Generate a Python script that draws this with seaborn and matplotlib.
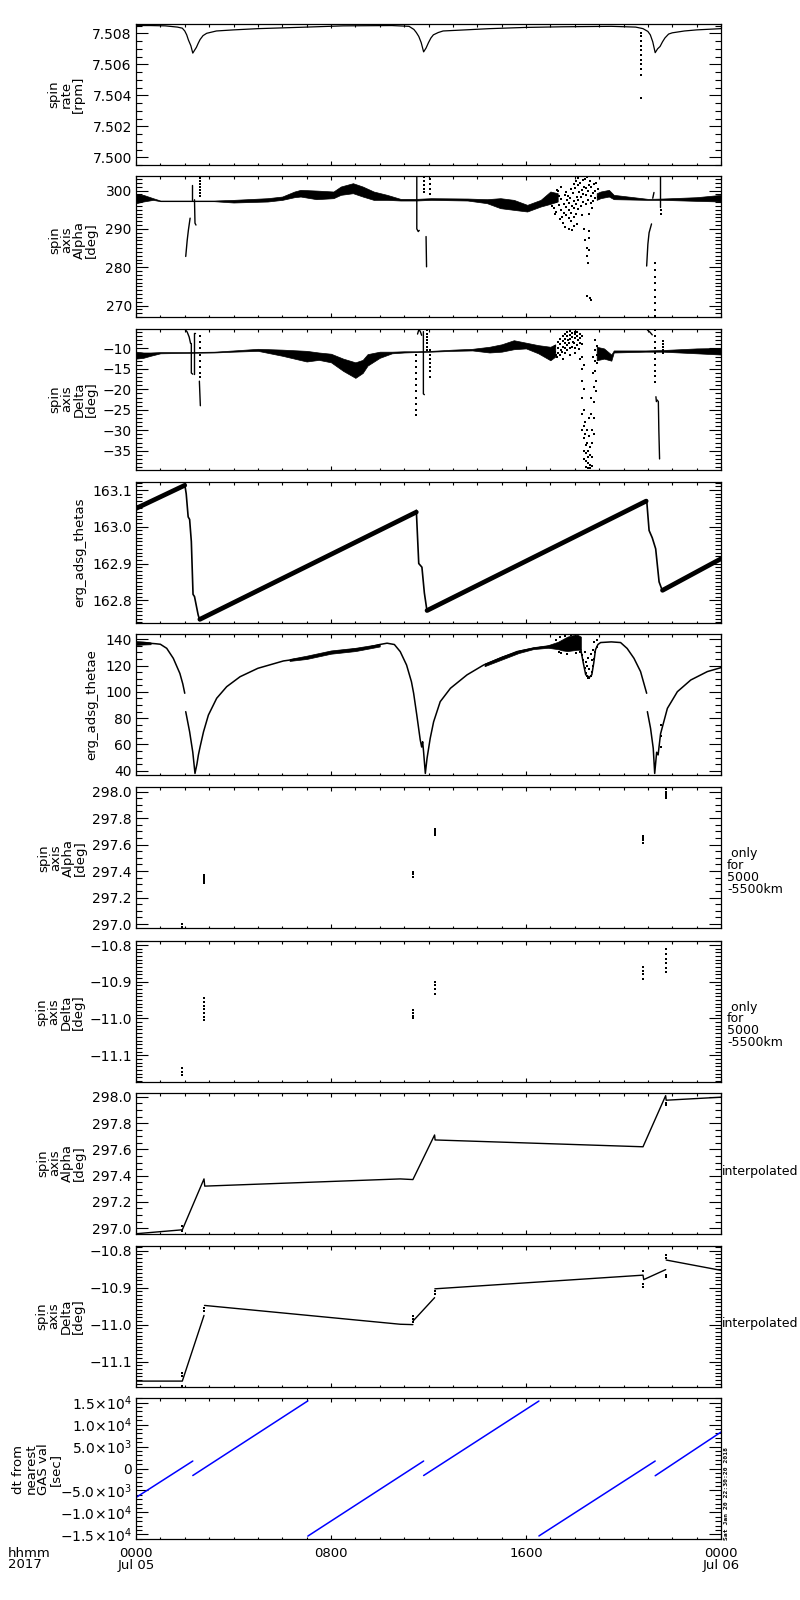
import numpy as np
import pandas as pd
import seaborn as sns
import matplotlib.pyplot as plt
from matplotlib.ticker import MultipleLocator, FuncFormatter

nan = np.nan

# time is in hours after 0000 UT, 2017 Jul 05

# panel 1: spin rate [rpm]
P1_T = [0.0, 0.6, 1.2, 1.7, 1.9, 2.0, 2.08, 2.15, 2.25, 2.33, 2.4, 2.48, 2.55, 2.63, 2.75, 2.9, 3.3, 4.0,
        5.0, 6.0, 7.0, 8.5, 10.5, 11.2, 11.4, 11.5, 11.6, 11.7, 11.8, 11.9, 12.0, 12.1, 12.2, 12.4, 12.6,
        13.5, 14.5, 16.0, 17.5, 19.5, 20.5, 20.8, 21.0, 21.1, 21.2, 21.3, 21.4, 21.5, 21.6, 21.7, 21.85,
        22.0, 22.5, 23.0, 24.0]
P1_V = [7.50850, 7.50850, 7.50848, 7.50840, 7.50833, 7.50815, 7.50790, 7.50757, 7.50720, 7.50672,
        7.50690, 7.50710, 7.50735, 7.50760, 7.50785, 7.50800, 7.50815, 7.50822, 7.50830, 7.50835,
        7.50840, 7.50848, 7.50850, 7.50845, 7.50825, 7.50805, 7.50780, 7.50740, 7.50680, 7.50705,
        7.50740, 7.50770, 7.50790, 7.50805, 7.50815, 7.50822, 7.50830, 7.50838, 7.50842, 7.50845,
        7.50840, 7.50830, 7.50812, 7.50790, 7.50745, 7.50675, 7.50700, 7.50715, 7.50745, 7.50770,
        7.50795, 7.50803, 7.50815, 7.50822, 7.50830]
P1_DOTS = [(20.72, 7.5080), (20.72, 7.5078), (20.72, 7.5075), (20.72, 7.5072), (20.72, 7.5069),
           (20.72, 7.5066), (20.72, 7.5063), (20.72, 7.5060), (20.72, 7.5057), (20.72, 7.5053),
           (20.72, 7.5038)]

# panel 2: spin axis Alpha [deg]
P2_BAND_T = [0.0, 0.3, 0.7, 1.0, 3.2, 4.0, 5.4, 6.0, 6.5, 6.75, 7.4, 8.1, 8.4, 8.9, 9.3, 9.75, 10.3, 10.85,
             11.5, 12.1, 13.6, 14.4, 14.95, 15.5, 16.05, 16.6, 17.0, 17.3, nan, 18.9, 19.06, 19.4, 19.6,
             21.0, 21.6, 23.0, 24.0]
P2_BAND_LO = [296.7, 297.14, 297.57, 297.22, 297.22, 296.88, 297.14, 297.57, 298.27, 298.44, 297.75,
              298.01, 298.88, 299.31, 298.44, 297.57, 297.57, 297.4, 297.4, 297.57, 297.4, 296.7, 295.4,
              294.96, 294.53, 295.83, 296.53, 297.14, nan, 297.57, 298.01, 298.44, 297.75, 297.57,
              297.57, 297.31, 297.14]
P2_BAND_HI = [299.05, 298.88, 298.01, 297.4, 297.4, 297.57, 298.01, 298.44, 299.75, 300.18, 300.0,
              299.75, 301.05, 301.92, 301.05, 299.75, 298.88, 297.83, 297.83, 298.01, 297.92, 297.75,
              298.01, 297.57, 296.27, 297.57, 299.75, 299.31, nan, 299.31, 299.75, 300.18, 298.88,
              297.83, 297.92, 298.27, 298.88]
P2_SPIKE_T = [2.04, 2.10, 2.15, 2.22, nan, 2.29, 2.29, nan, 2.40, 2.42, 2.46, nan, 11.52, 11.52, 11.58,
              11.62, nan, 11.9, 11.92, nan, 20.95, 21.0, 21.05, 21.15, nan, 21.2, 21.25, nan, 21.5, 21.5]
P2_SPIKE_V = [282.8, 287.0, 289.7, 292.8, nan, 301.5, 297.6, nan, 297.6, 291.5, 291.0, nan, 303.5, 290.0,
              289.3, 289.6, nan, 288.0, 280.1, nan, 280.3, 286.0, 289.0, 291.3, nan, 298.0, 299.5, nan,
              303.8, 295.6]
P2_DOTS = [(2.62, 303.3), (2.62, 302.6), (2.62, 301.8), (2.62, 301.0), (2.62, 300.2), (2.62, 299.4),
           (2.62, 298.6), (11.8, 303.5), (11.8, 302.5), (11.8, 301.5), (11.8, 300.5), (11.8, 299.5),
           (12.05, 303.0), (12.05, 301.8), (12.05, 300.5), (12.05, 299.2), (21.3, 281.0), (21.3, 279.2),
           (21.3, 277.5), (21.3, 275.8), (21.3, 274.0), (21.3, 272.3), (21.3, 270.6), (21.3, 268.9),
           (21.3, 267.3), (21.52, 294.8), (21.53, 294.0)]
P2_CLOUD = [
    (17.05, 297.5), (17.05, 296.0), (17.08, 298.8), (17.15, 295.5), (17.15, 299.0), (17.18, 293.8),
    (17.25, 297.0), (17.25, 294.5), (17.28, 300.2), (17.35, 296.2), (17.35, 298.5), (17.38, 292.5),
    (17.32, 299.8), (17.45, 295.0), (17.45, 297.8), (17.48, 293.0), (17.42, 300.8), (17.55, 294.2),
    (17.55, 296.5), (17.58, 298.9), (17.52, 291.5), (17.65, 293.5), (17.65, 295.8), (17.68, 297.6),
    (17.62, 290.5), (17.65, 299.5), (17.75, 292.8), (17.75, 295.0), (17.78, 296.8), (17.72, 298.6),
    (17.75, 290.0), (17.85, 292.0), (17.85, 294.2), (17.88, 296.0), (17.82, 298.0), (17.85, 300.5),
    (17.88, 289.6), (17.95, 293.0), (17.95, 295.5), (17.98, 297.2), (17.92, 299.4), (17.95, 301.8),
    (17.98, 290.8), (18.05, 294.0), (18.05, 296.4), (18.08, 298.2), (18.02, 300.6), (18.05, 302.6),
    (18.08, 291.2), (18.15, 295.2), (18.15, 297.5), (18.18, 299.6), (18.12, 301.4), (18.15, 303.3),
    (18.25, 296.0), (18.25, 298.4), (18.28, 300.2), (18.22, 302.0), (18.25, 303.8), (18.28, 293.5),
    (18.35, 297.0), (18.35, 299.2), (18.38, 301.0), (18.32, 302.8), (18.35, 304.0), (18.38, 290.0),
    (18.42, 287.0), (18.45, 296.5), (18.45, 298.8), (18.48, 300.6), (18.42, 303.0), (18.5, 285.0),
    (18.52, 283.0), (18.55, 281.0), (18.55, 297.5), (18.55, 299.8), (18.58, 301.5), (18.52, 303.5),
    (18.58, 294.0), (18.6, 289.5), (18.65, 296.8), (18.65, 298.6), (18.68, 300.8), (18.62, 302.4),
    (18.58, 287.5), (18.6, 284.5), (18.75, 297.2), (18.75, 299.4), (18.78, 301.8), (18.72, 295.5),
    (18.85, 298.0), (18.85, 300.0), (18.88, 302.0), (18.95, 298.4), (18.95, 300.4),
    (18.52, 272.6), (18.62, 272.0), (18.68, 271.5)]

# panel 3: spin axis Delta [deg]
P3_BAND_T = [0.0, 0.3, 0.6, 1.0, 2.0, 3.2, 4.0, 5.0, 6.0, 7.0, 7.5, 8.0, 8.5, 9.0, 9.3, 9.5, 10.0, 10.5,
             11.0, 11.5, 12.1, 13.0, 13.8, 14.5, 15.0, 15.5, 16.0, 16.5, 17.0, 17.2, nan, 18.9, 19.2,
             19.5, 19.6, 20.9, 21.6, 23.0, 24.0]
P3_BAND_LO = [-12.5, -12.3, -11.8, -11.2, -11.1, -11.0, -10.8, -10.6, -11.8, -13.2, -12.8, -13.4, -15.5,
              -17.2, -16.0, -14.2, -12.3, -11.2, -11.0, -10.9, -10.8, -10.6, -10.5, -11.0, -10.8, -10.2,
              -10.0, -11.2, -12.9, -12.0, nan, -12.9, -12.5, -13.0, -11.0, -10.8, -10.8, -11.2, -11.5]
P3_BAND_HI = [-10.8, -11.0, -11.0, -10.9, -10.9, -10.8, -10.5, -10.1, -10.3, -10.6, -11.0, -11.3, -12.5,
              -13.4, -12.8, -11.4, -10.8, -10.8, -10.7, -10.7, -10.6, -10.3, -10.1, -9.6, -9.0, -8.0,
              -8.6, -9.2, -9.6, -9.0, nan, -9.6, -10.0, -11.5, -10.5, -10.5, -10.4, -10.0, -9.9]
P3_SPIKE_T = [2.02, 2.10, 2.18, 2.24, nan, 2.27, 2.27, 2.33, nan, 2.42, 2.37, 2.37, nan, 2.60, 2.62, 2.64,
              nan, 11.55, 11.6, 11.66, 11.72, nan, 11.79, 11.79, 11.83, nan, 20.98, 21.08, 21.18, nan,
              21.33, 21.35, nan, 21.38, 21.43, 21.45, 21.48]
P3_SPIKE_V = [-5.4, -6.0, -7.2, -8.8, nan, -8.8, -16.0, -16.3, nan, -6.3, -6.3, -16.2, nan, -18.0, -21.0,
              -24.0, nan, -6.5, -5.5, -5.8, -6.8, nan, -5.9, -21.1, -21.3, nan, -5.5, -6.0, -6.7, nan,
              -21.8, -23.0, nan, -22.6, -23.0, -30.0, -37.0]
P3_DOTS = [(2.62, -7.0), (2.62, -8.5), (2.62, -10.0), (2.62, -11.5), (2.62, -13.0), (2.62, -14.5),
           (2.62, -16.0), (2.62, -17.0), (11.5, -11.5), (11.5, -13.0), (11.5, -14.5), (11.5, -16.0),
           (11.5, -17.5), (11.5, -19.0), (11.5, -20.5), (11.5, -22.0), (11.5, -23.5), (11.5, -25.0),
           (11.5, -26.3), (11.95, -5.6), (11.95, -6.4), (11.95, -7.2), (11.95, -8.0), (11.95, -8.8),
           (11.95, -9.6), (11.95, -10.4), (12.05, -10.5), (12.05, -11.5), (12.05, -12.5), (12.05, -13.5),
           (12.05, -14.5), (12.05, -15.5), (12.05, -17.0), (21.3, -5.6), (21.3, -7.0), (21.3, -8.4),
           (21.3, -9.8), (21.3, -11.2), (21.3, -12.6), (21.3, -14.0), (21.3, -15.4), (21.3, -16.8),
           (21.3, -18.2), (21.6, -8.2), (21.6, -8.9), (21.6, -9.6), (21.6, -10.3), (21.6, -11.0)]
P3_CLOUD = [
    (17.2, -9.5), (17.2, -10.8), (17.22, -11.6), (17.3, -8.5), (17.3, -9.8), (17.32, -11.0),
    (17.28, -12.2), (17.4, -7.8), (17.4, -9.0), (17.42, -10.4), (17.38, -11.5), (17.5, -7.0),
    (17.5, -8.2), (17.52, -9.6), (17.48, -10.8), (17.5, -12.5), (17.6, -6.6), (17.6, -7.6),
    (17.62, -8.8), (17.58, -10.0), (17.6, -11.2), (17.7, -6.0), (17.7, -7.0), (17.72, -8.0),
    (17.68, -9.2), (17.7, -10.5), (17.8, -5.8), (17.8, -6.8), (17.82, -7.8), (17.78, -8.8),
    (17.8, -10.0), (17.82, -11.6), (17.9, -6.2), (17.9, -7.2), (17.92, -8.4), (17.88, -9.6),
    (18.0, -5.9), (18.0, -6.6), (18.02, -7.5), (17.98, -8.6), (18.0, -9.8), (18.02, -11.0),
    (18.1, -6.1), (18.1, -7.0), (18.12, -8.0), (18.08, -9.2), (18.2, -6.4), (18.2, -7.4),
    (18.22, -8.6), (18.18, -10.2), (18.2, -12.5), (18.28, -7.0), (18.28, -9.0), (18.28, -12.0),
    (18.29, -15.0), (18.29, -18.0), (18.3, -22.0), (18.3, -26.0), (18.31, -30.0), (18.36, -14.0),
    (18.36, -20.0), (18.37, -25.0), (18.37, -29.0), (18.38, -32.0), (18.38, -35.0), (18.39, -37.0),
    (18.44, -28.0), (18.44, -31.0), (18.45, -33.5), (18.45, -35.5), (18.46, -37.5), (18.46, -39.0),
    (18.52, -30.0), (18.52, -33.0), (18.53, -35.0), (18.53, -36.5), (18.54, -38.0), (18.54, -39.3),
    (18.6, -27.0), (18.6, -31.5), (18.61, -34.0), (18.61, -36.0), (18.62, -38.5), (18.62, -39.3),
    (18.68, -22.0), (18.68, -26.0), (18.69, -30.0), (18.69, -33.0), (18.7, -36.5), (18.7, -38.8),
    (18.76, -12.0), (18.76, -16.0), (18.77, -19.5), (18.77, -23.0), (18.78, -27.0), (18.78, -31.0),
    (18.84, -8.0), (18.84, -10.5), (18.85, -13.0), (18.85, -15.5), (18.86, -18.0), (18.86, -20.5),
    (18.92, -9.5), (18.92, -11.5), (18.93, -13.5)]

# panel 4: erg_adsg_thetas
P4_RISE_T = [0.0, 2.0, nan, 2.62, 11.5, nan, 11.94, 20.93, nan, 21.6, 24.0]
P4_RISE_V = [163.05, 163.113, nan, 162.748, 163.04, nan, 162.772, 163.07, nan, 162.827, 162.913]
P4_DROP_T = [2.0, 2.06, 2.14, 2.2, 2.27, 2.34, 2.4, 2.55, 2.62, nan, 11.5, 11.6, 11.73, 11.83, 11.94, nan,
             20.95, 21.05, 21.18, 21.32, 21.46, 21.6]
P4_DROP_V = [163.115, 163.09, 163.027, 163.02, 162.96, 162.816, 162.81, 162.76, 162.745, nan, 163.045,
             162.90, 162.89, 162.82, 162.77, nan, 163.073, 162.99, 162.97, 162.94, 162.85, 162.825]

# panel 5: erg_adsg_thetae
P5_T = [0.0, 0.4, 0.8, 1.0, 1.26, 1.53, 1.8, 1.92, 2.0, nan,
        2.04, 2.2, 2.33, 2.42, 2.5, 2.56, 2.63, 2.77, 2.97, 3.31, 3.72, 4.27, 5.0, 6.05, 7.0, 8.0, 8.79,
        9.47, 10.0, 10.3, 10.6, 10.84, 11.1, 11.3, 11.39, 11.52, 11.66, 11.72, 11.76, 11.8, 11.87, 11.94,
        12.07, 12.21, 12.48, 12.9, 13.58, 14.26, 14.95, 15.63, 16.32, 16.87, 17.3, nan,
        18.25, 18.35, 18.45, 18.6, 18.7, 18.78, 18.85, 18.95, 19.06, 19.5, 19.88, 20.15, 20.43, 20.7,
        20.95, nan,
        20.98, 21.11, 21.22, 21.28, 21.36, 21.42, 21.52, 21.8, 22.21, 22.76, 23.44, 24.0]
P5_V = [137.0, 137.2, 136.6, 136.2, 133.1, 125.5, 114.0, 106.0, 98.9, nan,
        84.9, 69.6, 54.0, 37.9, 45.0, 52.0, 58.2, 69.6, 82.3, 95.1, 103.9, 111.5, 117.9, 123.5, 126.0,
        130.1, 131.9, 133.5, 136.0, 137.0, 136.0, 130.6, 120.4, 107.7, 98.9, 82.3, 63.5, 58.0, 62.0,
        54.0, 37.9, 49.4, 64.6, 77.2, 92.5, 102.7, 112.9, 120.4, 125.6, 130.6, 133.1, 134.4, 136.0, nan,
        132.0, 122.0, 113.0, 111.0, 113.0, 122.0, 132.0, 136.0, 137.5, 138.0, 137.5, 133.0, 125.5,
        115.4, 98.9, nan,
        84.9, 72.2, 57.0, 37.9, 54.0, 52.0, 68.0, 87.4, 100.1, 109.0, 115.4, 118.4]
P5_BAND_T = [0.0, 0.3, 0.6, nan, 6.3, 7.0, 8.0, 9.0, 10.0, nan, 14.3, 15.0, 15.7, 16.3, 16.9, 17.3, 17.5,
             17.7, 17.9, 18.1, 18.25]
P5_BAND_LO = [135.6, 136.0, 136.2, nan, 123.5, 125.0, 129.0, 131.0, 134.5, nan, 119.5, 124.5, 129.5,
              132.5, 133.5, 132.5, 131.5, 131.0, 131.5, 132.0, 132.0]
P5_BAND_HI = [138.6, 138.3, 137.6, nan, 125.0, 127.5, 131.5, 133.5, 136.5, nan, 121.5, 127.0, 131.5,
              134.0, 135.5, 138.0, 140.0, 142.0, 143.0, 143.5, 142.0]
P5_DOTS = [(17.25, 139.5), (17.4, 141.5), (17.6, 142.8), (17.85, 143.6), (18.0, 143.8), (17.45, 129.5),
           (17.7, 129.0), (18.05, 129.5), (17.35, 130.5), (18.2, 130.0), (18.3, 128.0), (18.35, 124.0),
           (18.4, 118.0), (18.45, 114.5), (18.5, 112.0), (18.55, 110.5), (18.6, 110.8), (18.65, 112.0),
           (18.7, 115.0), (18.75, 120.0), (18.8, 125.0), (18.85, 130.0), (18.9, 134.0), (18.5, 120.0),
           (18.6, 117.5), (18.7, 124.0), (18.4, 130.0), (18.55, 126.0), (18.8, 138.0), (18.9, 139.5),
           (18.75, 132.0), (18.65, 128.5), (18.45, 122.5), (21.52, 74.7), (21.52, 66.0), (21.52, 58.0)]

# panels 6/7: attitude only for 5000-5500 km
P6_DOTS = [(1.9, 297.0), (1.9, 296.98), (2.79, 297.37), (2.79, 297.355), (2.79, 297.34), (2.79, 297.325),
           (2.8, 297.31), (11.36, 297.395), (11.36, 297.375), (11.36, 297.355), (12.25, 297.72),
           (12.25, 297.705), (12.25, 297.69), (12.26, 297.675), (20.81, 297.665), (20.81, 297.65),
           (20.81, 297.635), (20.82, 297.615), (21.73, 298.02), (21.73, 298.0), (21.74, 297.985),
           (21.74, 297.965), (21.75, 297.95)]
P7_DOTS = [(1.9, -11.135), (1.9, -11.145), (1.9, -11.155), (2.79, -10.945), (2.79, -10.955),
           (2.79, -10.965), (2.79, -10.975), (2.79, -10.985), (2.8, -10.995), (2.8, -11.005),
           (11.36, -10.978), (11.36, -10.986), (11.36, -10.994), (11.36, -11.0), (12.25, -10.9),
           (12.25, -10.91), (12.25, -10.92), (12.26, -10.933), (20.81, -10.86), (20.81, -10.87),
           (20.81, -10.88), (20.82, -10.893), (21.73, -10.812), (21.73, -10.825), (21.73, -10.838),
           (21.74, -10.85), (21.74, -10.862), (21.74, -10.874)]

# panels 8/9: interpolated attitude
P8_T = [0.0, 1.9, 2.79, 2.82, 10.84, 11.36, 12.25, 12.27, 20.8, 21.73, 21.75, 24.0]
P8_V = [296.957, 296.987, 297.375, 297.32, 297.375, 297.37, 297.71, 297.672, 297.62, 298.01, 297.975, 297.998]
P8_DOTS = [(1.9, 297.015), (1.9, 296.975), (21.75, 297.955), (21.75, 297.935)]
P9_T = [0.0, 1.9, 2.79, nan, 2.81, 10.84, 11.36, nan, 11.37, 12.25, nan, 12.26, 20.8, 20.83, 21.73, nan,
        21.75, 24.0]
P9_V = [-11.153, -11.153, -10.975, nan, -10.948, -10.999, -11.0, nan, -10.99, -10.927, nan, -10.903,
        -10.866, -10.878, -10.851, nan, -10.825, -10.853]
P9_DOTS = [(1.9, -11.13), (1.9, -11.14), (1.9, -11.165), (2.8, -10.955), (2.8, -10.962), (11.36, -10.978),
           (11.36, -10.986), (11.36, -10.993), (12.25, -10.91), (12.25, -10.918), (20.8, -10.855),
           (20.8, -10.89), (20.8, -10.897), (21.73, -10.812), (21.73, -10.82), (21.73, -10.865),
           (21.73, -10.872)]

# panel 10: dt from nearest GAS value [sec]
P10_T = [0.0, 2.33, nan, 2.33, 7.05, nan, 7.05, 11.8, nan, 11.8, 16.53, nan, 16.53, 21.3, nan, 21.3, 24.0]
P10_V = [-6600, 1700, nan, -1600, 15400, nan, -15400, 1700, nan, -1600, 15370, nan, -15370, 1700, nan,
         -1650, 8300]
P10_TICKS = [-15000, -10000, -5000, 0, 5000, 10000, 15000]
P10_LABELS = [r'$-1.5\!\times\!10^{4}$', r'$-1.0\!\times\!10^{4}$', r'$-5.0\!\times\!10^{3}$', '0',
              r'$5.0\!\times\!10^{3}$', r'$1.0\!\times\!10^{4}$', r'$1.5\!\times\!10^{4}$']

YLABELS = ['spin\nrate\n[rpm]', 'spin\naxis\nAlpha\n[deg]', 'spin\naxis\nDelta\n[deg]',
           'erg_adsg_thetas', 'erg_adsg_thetae', 'spin\naxis\nAlpha\n[deg]', 'spin\naxis\nDelta\n[deg]',
           'spin\naxis\nAlpha\n[deg]', 'spin\naxis\nDelta\n[deg]', 'dt from\nnearest\nGAS val\n[sec]']
X_TICKS = [0, 8, 16, 24]
X_LABELS = ['0000\nJul 05', '0800', '1600', '0000\nJul 06']


def split(t, *cols):
    t = np.asarray(t, float)
    seg = np.cumsum(np.isnan(t))
    df = pd.DataFrame({'t': t, 'seg': seg})
    for i, c in enumerate(cols):
        df[f'v{i}'] = np.asarray(c, float)
    return df.dropna()


def lines(ax, t, v, lw=1.0, color='black'):
    df = split(t, v)
    sns.lineplot(data=df, x='t', y='v0', units='seg', estimator=None, sort=False,
                 color=color, linewidth=lw, ax=ax, legend=False)


def band(ax, t, lo, hi):
    df = split(t, lo, hi)
    for _, g in df.groupby('seg'):
        ax.fill_between(g['t'], g['v0'], g['v1'], color='black', linewidth=0.5)


def dots(ax, pts, s=3):
    t, v = zip(*pts)
    sns.scatterplot(x=list(t), y=list(v), ax=ax, marker='s', s=s, color='black',
                    linewidth=0, legend=False)


sns.set_theme(style='ticks')
plt.rcParams['font.family'] = ['DejaVu Sans']
plt.rcParams['mathtext.fontset'] = 'dejavusans'
plt.rcParams['axes.edgecolor'] = 'black'
plt.rcParams['text.color'] = 'black'

fig = plt.figure(figsize=(8, 16), dpi=100)
W, H = 800, 1600
LEFT, RIGHT, PH = 136, 721, 141
TOPS = [24, 176, 329, 482, 634, 787, 941, 1093, 1246, 1398]
axes = [fig.add_axes([LEFT / W, 1 - (top + PH) / H, (RIGHT - LEFT) / W, PH / H]) for top in TOPS]

# draw
ax = axes[0]
lines(ax, P1_T, P1_V, lw=0.9)
dots(ax, P1_DOTS, s=2)

ax = axes[1]
band(ax, P2_BAND_T, P2_BAND_LO, P2_BAND_HI)
lines(ax, P2_SPIKE_T, P2_SPIKE_V, lw=1.0)
dots(ax, P2_DOTS, s=2)
dots(ax, P2_CLOUD, s=3)

ax = axes[2]
band(ax, P3_BAND_T, P3_BAND_LO, P3_BAND_HI)
lines(ax, P3_SPIKE_T, P3_SPIKE_V, lw=1.0)
dots(ax, P3_DOTS, s=2)
dots(ax, P3_CLOUD, s=3)

ax = axes[3]
lines(ax, P4_RISE_T, P4_RISE_V, lw=3.4)
lines(ax, P4_DROP_T, P4_DROP_V, lw=1.2)

ax = axes[4]
band(ax, P5_BAND_T, P5_BAND_LO, P5_BAND_HI)
lines(ax, P5_T, P5_V, lw=1.1)
dots(ax, P5_DOTS, s=3)

dots(axes[5], P6_DOTS, s=2)
dots(axes[6], P7_DOTS, s=2)

lines(axes[7], P8_T, P8_V, lw=1.0)
dots(axes[7], P8_DOTS, s=2)
lines(axes[8], P9_T, P9_V, lw=1.0)
dots(axes[8], P9_DOTS, s=2)

lines(axes[9], P10_T, P10_V, lw=1.1, color='#0000ff')

# axes styling
YLIMS = [(7.4995, 7.5086), (267.0, 303.8), (-39.7, -5.26), (162.738, 163.122), (36.7, 144.0),
         (296.97, 298.035), (-11.173, -10.789), (296.955, 298.03), (-11.169, -10.787), (-16060, 16060)]
MAJ = [0.002, 10, 5, 0.1, 20, 0.2, 0.1, 0.2, 0.1, 5000]
MIN = [0.0005, 1, 1, 0.01, 5, 0.05, 0.01, 0.05, 0.01, 1000]
DEC = [3, 0, 0, 1, 0, 1, 1, 1, 1, 0]
LAB_X = [66, 73, 73, 80, 92, 62, 60, 61, 60, 37]
LAB_Y = [94, 240, 399, 552, 705, 858, 1012, 1163, 1316, 1469]

for i, ax in enumerate(axes):
    ax.set_xlim(0, 24)
    ax.set_ylim(*YLIMS[i])
    ax.set_xlabel('')
    ax.set_ylabel('')
    ax.xaxis.set_major_locator(MultipleLocator(8))
    ax.xaxis.set_minor_locator(MultipleLocator(1))
    if i == 9:
        ax.set_yticks(P10_TICKS, labels=P10_LABELS)
    else:
        ax.yaxis.set_major_locator(MultipleLocator(MAJ[i]))
        ax.yaxis.set_major_formatter(FuncFormatter(
            lambda v, p, d=DEC[i]: f'{v:.{d}f}'.replace('-', '\u2212')))
    ax.yaxis.set_minor_locator(MultipleLocator(MIN[i]))
    ax.tick_params(axis='both', which='both', direction='in', top=True, right=True,
                   color='black', width=0.8, labelcolor='black')
    ax.tick_params(axis='y', which='major', length=8.4, labelsize=10, pad=3)
    ax.tick_params(axis='y', which='minor', length=4.3)
    ax.tick_params(axis='x', which='major', length=2.9, labelsize=9.5, pad=6)
    ax.tick_params(axis='x', which='minor', length=1.8)
    for sp in ax.spines.values():
        sp.set_linewidth(0.9)
        sp.set_color('black')
    if i < 9:
        ax.tick_params(axis='x', labelbottom=False)
    else:
        ax.set_xticks(X_TICKS, labels=X_LABELS)
        for lab in ax.get_xticklabels():
            lab.set_linespacing(0.85)
    fig.text(LAB_X[i] / W, 1 - LAB_Y[i] / H, YLABELS[i], rotation=90, ha='center', va='center',
             multialignment='center', fontsize=9.5, linespacing=0.93)

for yc in (871, 1025):
    fig.text(727 / W, 1 - yc / H, ' only\nfor\n5000\n-5500km', ha='left', va='center',
             fontsize=9, linespacing=0.9)
for yc in (1172, 1324):
    fig.text(722 / W, 1 - yc / H, 'interpolated', ha='left', va='center', fontsize=9)

fig.text(8 / W, 1 - 1547 / H, 'hhmm\n2017', ha='left', va='top', fontsize=9.5, linespacing=0.85)
fig.text(726 / W, 1 - 1494 / H, 'Sat Jan 20 22:30:20 2018', rotation=90, ha='center', va='center',
         fontsize=4.6, family='DejaVu Sans Mono', weight='bold')

fig.savefig('out.png', dpi=100, facecolor='white')
